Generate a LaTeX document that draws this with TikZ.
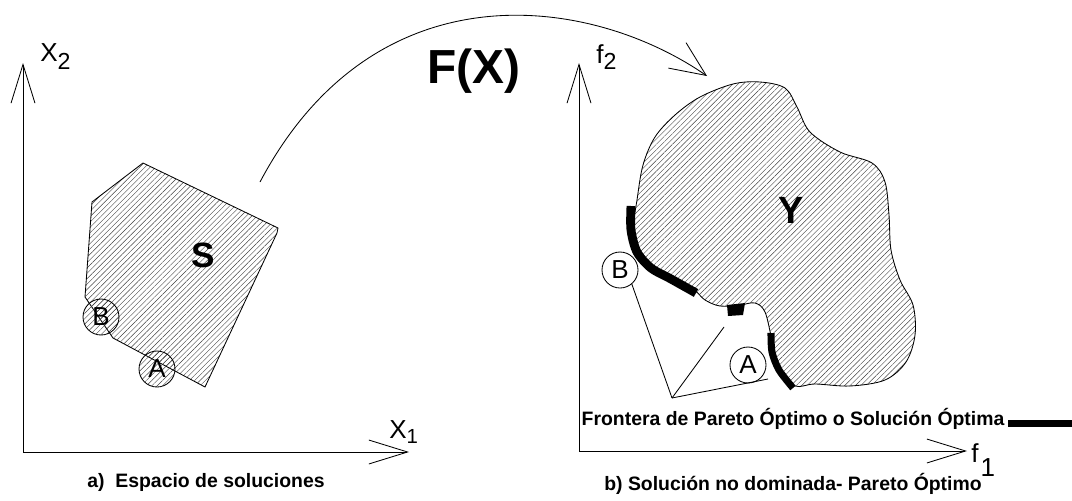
\documentclass[tikz,border=0pt]{standalone}
\usepackage{fontspec}
\setmainfont{Liberation Sans}
\usetikzlibrary{arrows.meta,patterns.meta}
\begin{document}
\begin{tikzpicture}[x=0.025cm,y=-0.025cm,
  thinline/.style={line width=0.6pt},
  axis/.style={line width=0.7pt,-{Straight Barb[length=27.5pt,width=17pt,line width=0.6pt]}},
  maparrow/.style={line width=0.6pt,-{Straight Barb[length=25pt,width=22pt,line width=0.6pt]}},
  hatch/.style={pattern={Lines[angle=45,distance=2.7pt,line width=0.3pt]},pattern color=black!75},
  region/.style={draw,line width=0.6pt,hatch},
  ptcircle/.style={circle,draw,line width=0.6pt,minimum size=25.6pt,inner sep=0pt,font=\fontsize{18.5pt}{18.5pt}\selectfont},
  frontier/.style={line width=6.3pt,line cap=butt},
  caption/.style={anchor=base,inner sep=0pt,font=\bfseries\fontsize{13.8pt}{13.8pt}\selectfont},
  axlabel/.style={anchor=base west,inner sep=0pt}
]
\useasboundingbox (0,0) rectangle (1072,500);

% ---------- left: solution space ----------
\coordinate (O1) at (23,452);
\coordinate (X1tip) at (409,452);
\coordinate (X2tip) at (23,63);
\draw[axis] (O1) -- (X2tip);
\draw[axis] (O1) -- (X1tip);

\draw[region] (143,163) -- (92,202) -- (85,297) -- (113,338) -- (205,387) -- (277,233) -- (278,228) -- cycle;
\node[ptcircle,hatch] (Bl) at (101,317) {B};
\node[ptcircle,hatch] (Al) at (157,369) {A};
\node[font=\bfseries\fontsize{25pt}{25pt}\selectfont] (S) at (203,255) {S};

\node[axlabel] (x2lab) at (40,61) {\fontsize{18.5pt}{18.5pt}\selectfont X\raisebox{-5.7pt}{\fontsize{16.5pt}{16.5pt}\selectfont 2}};
\node[axlabel] (x1lab) at (389,438) {\fontsize{18.5pt}{18.5pt}\selectfont X\raisebox{-3.6pt}{\fontsize{14.5pt}{14.5pt}\selectfont 1}};

% ---------- mapping arrow ----------
\coordinate (Fstart) at (260,182);
\coordinate (Fend) at (707,76);
\draw[maparrow] (Fstart) .. controls (375,-35) and (590,-5) .. (Fend);
\node[font=\bfseries\fontsize{34pt}{34pt}\selectfont] (FX) at (474,71) {F(X)};

% ---------- right: objective space ----------
\coordinate (O2) at (579,451);
\coordinate (F1tip) at (967,451);
\coordinate (F2tip) at (579,63);
\draw[axis] (O2) -- (F2tip);
\draw[axis] (O2) -- (F1tip);

\draw[region] plot[smooth cycle, tension=0.55] coordinates {
  (637,200) (643,165) (655,137) (675,115) (700,97) (733,84) (760,82) (785,88)
  (797,107) (810,132) (840,152) (872,163) (885,182) (889,215) (891,250)
  (900,280) (913,305) (915,335) (906,362) (885,380) (850,386) (815,384)
  (795,386) (780,370) (772,340) (765,312) (755,303) (740,305) (720,306)
  (705,300) (694,290) (670,277) (650,265) (638,248) (634,224)};

\draw[frontier] plot[smooth] coordinates {(631,206) (631,230) (637,252) (651,268) (671,279) (696,293)};
\fill (727,305) -- (745,303) -- (743,315) -- (728,316) -- cycle;
\draw[line width=5pt] plot[smooth] coordinates {(771,333) (772,352) (779,370) (793,388)};

\node[font=\bfseries\fontsize{27pt}{27pt}\selectfont] (Y) at (791,210) {Y};

\node[ptcircle,fill=white] (Br) at (620,270) {B};
\node[ptcircle,fill=white] (Ar) at (748,365) {A};

\coordinate (V) at (672,398);
\coordinate (N) at (724,327);
\coordinate (Aend) at (768,379);
\draw[thinline] (Br.-50) -- (V);
\draw[thinline] (V) -- (N);
\draw[thinline] (V) -- (Aend);

\node[axlabel] (f2lab) at (596,63) {\fontsize{18.5pt}{18.5pt}\selectfont f\raisebox{-4.3pt}{\fontsize{16.5pt}{16.5pt}\selectfont 2}};
\node[axlabel] (f1lab) at (971,462) {\fontsize{18.5pt}{18.5pt}\selectfont f\kern1.5pt\raisebox{-10pt}{\fontsize{18.5pt}{18.5pt}\selectfont 1}};

\node[caption] (front) at (793,425) {Frontera de Pareto Óptimo o Solución Óptima};
\fill (1008,420) rectangle (1072,427);

% ---------- captions ----------
\node[caption] (capa) at (206,487) {a)\ \ Espacio de soluciones};
\node[caption] (capb) at (793,490) {b) Solución no dominada- Pareto Óptimo};
\end{tikzpicture}
\end{document}
